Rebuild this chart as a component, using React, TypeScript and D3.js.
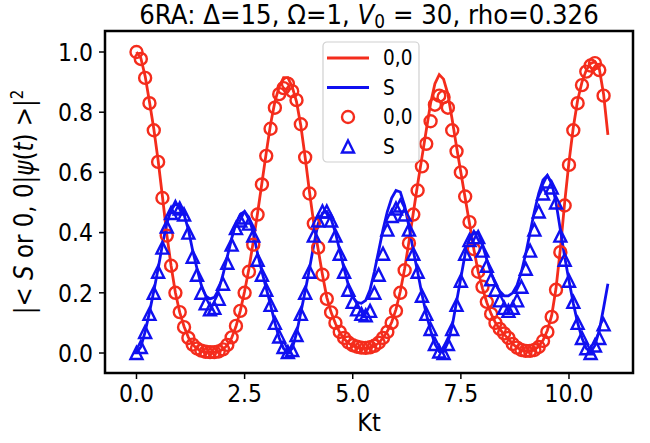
import * as d3 from "d3";

const W = 650;
const H = 443;

// sampling step of every series (Kt)
const dt = 0.1;

const xTicks = [0, 2.5, 5, 7.5, 10];
const yTicks = [0, 0.2, 0.4, 0.6, 0.8, 1.0];

// solid lines, Kt = 0 .. 10.9
const red00Line = [
  1.0, 0.98, 0.92, 0.835, 0.745, 0.64, 0.52, 0.395, 0.29, 0.2,
  0.135, 0.088, 0.052, 0.028, 0.014, 0.007, 0.003, 0.002, 0.002, 0.005,
  0.012, 0.026, 0.05, 0.088, 0.14, 0.205, 0.28, 0.37, 0.465, 0.565,
  0.665, 0.76, 0.835, 0.885, 0.915, 0.915, 0.885, 0.835, 0.755, 0.65,
  0.535, 0.43, 0.345, 0.26, 0.185, 0.135, 0.098, 0.068, 0.047, 0.033,
  0.024, 0.019, 0.016, 0.016, 0.018, 0.023, 0.033, 0.05, 0.072, 0.102,
  0.145, 0.205, 0.28, 0.37, 0.465, 0.56, 0.65, 0.74, 0.83, 0.895,
  0.925, 0.91, 0.86, 0.775, 0.685, 0.6, 0.515, 0.43, 0.345, 0.27,
  0.215, 0.168, 0.13, 0.1, 0.079, 0.062, 0.047, 0.03, 0.018, 0.01,
  0.007, 0.007, 0.011, 0.022, 0.042, 0.075, 0.125, 0.215, 0.345, 0.5,
  0.635, 0.75, 0.84, 0.9, 0.94, 0.962, 0.968, 0.945, 0.86, 0.725,
];

const blueSLine = [
  0.0, 0.02, 0.07, 0.135, 0.205, 0.28, 0.36, 0.43, 0.475, 0.495,
  0.49, 0.46, 0.41, 0.34, 0.28, 0.225, 0.19, 0.18, 0.185, 0.21,
  0.26, 0.32, 0.38, 0.43, 0.46, 0.47, 0.45, 0.4, 0.33, 0.27,
  0.215, 0.16, 0.1, 0.05, 0.015, 0.0, 0.015, 0.065, 0.135, 0.205,
  0.28, 0.36, 0.43, 0.465, 0.47, 0.445, 0.4, 0.34, 0.28, 0.225,
  0.185, 0.168, 0.165, 0.175, 0.21, 0.27, 0.34, 0.41, 0.47, 0.515,
  0.54, 0.535, 0.49, 0.42, 0.34, 0.27, 0.195, 0.13, 0.075, 0.03,
  0.005, 0.005, 0.035, 0.09, 0.17, 0.25, 0.33, 0.38, 0.4, 0.4,
  0.36, 0.31, 0.265, 0.23, 0.205, 0.19, 0.19, 0.2, 0.225, 0.27,
  0.33, 0.4, 0.47, 0.53, 0.575, 0.59, 0.565, 0.5, 0.41, 0.32,
  0.24, 0.165, 0.1, 0.05, 0.015, 0.003, 0.025, 0.075, 0.15, 0.23,
];

// markers, Kt = 0 .. 10.8
const red00Pts = [
  1.0, 0.977, 0.914, 0.83, 0.74, 0.635, 0.515, 0.39, 0.29, 0.2,
  0.136, 0.086, 0.05, 0.028, 0.015, 0.008, 0.004, 0.003, 0.003, 0.005,
  0.012, 0.027, 0.052, 0.09, 0.14, 0.2, 0.27, 0.36, 0.46, 0.56,
  0.655, 0.745, 0.815, 0.86, 0.88, 0.895, 0.87, 0.84, 0.76, 0.65,
  0.53, 0.43, 0.35, 0.26, 0.18, 0.135, 0.1, 0.07, 0.05, 0.035,
  0.026, 0.021, 0.018, 0.017, 0.019, 0.024, 0.034, 0.05, 0.07, 0.1,
  0.14, 0.2, 0.275, 0.365, 0.46, 0.54, 0.62, 0.695, 0.77, 0.825,
  0.855, 0.85, 0.815, 0.74, 0.67, 0.6, 0.52, 0.435, 0.345, 0.27,
  0.22, 0.17, 0.13, 0.1, 0.08, 0.065, 0.05, 0.03, 0.018, 0.01,
  0.007, 0.007, 0.01, 0.02, 0.04, 0.07, 0.12, 0.21, 0.335, 0.49,
  0.625, 0.74, 0.83, 0.89, 0.935, 0.955, 0.963, 0.94, 0.855,
];

const blueSPts = [
  0.0, 0.02, 0.07, 0.13, 0.2, 0.27, 0.35, 0.42, 0.465, 0.485,
  0.48, 0.46, 0.4, 0.32, 0.26, 0.2, 0.165, 0.145, 0.15, 0.18,
  0.23, 0.3, 0.36, 0.415, 0.44, 0.45, 0.43, 0.39, 0.31, 0.26,
  0.21, 0.16, 0.1, 0.055, 0.02, 0.003, 0.01, 0.06, 0.13, 0.2,
  0.27, 0.39, 0.44, 0.47, 0.47, 0.44, 0.39, 0.33, 0.27, 0.21,
  0.17, 0.145, 0.13, 0.125, 0.14, 0.2, 0.26, 0.33, 0.41, 0.455,
  0.48, 0.49, 0.46, 0.41, 0.33, 0.27, 0.19, 0.13, 0.08, 0.03,
  0.005, 0.0, 0.03, 0.08, 0.16, 0.24, 0.33, 0.375, 0.385, 0.385,
  0.34, 0.29, 0.245, 0.21, 0.175, 0.15, 0.14, 0.15, 0.175, 0.22,
  0.28, 0.34, 0.41, 0.47, 0.53, 0.57, 0.55, 0.5, 0.39, 0.31,
  0.24, 0.17, 0.1, 0.05, 0.016, 0.0, 0.025, 0.05, 0.095,
];

const RED = "#f42c1c";
const BLUE = "#1010f0";
const FONT = "DejaVu Sans";

const frame = { left: 105, right: 633, top: 31, bottom: 373 };
const SY = 1.12; // text in the picture is a little taller than wide

export default function App() {
  const x = d3.scaleLinear().domain([-0.728, 11.48]).range([frame.left, frame.right]);
  const y = d3.scaleLinear().domain([-0.0664, 1.0698]).range([frame.bottom, frame.top]);

  const line = d3
    .line<number>()
    .x((_, i) => x(i * dt))
    .y((v) => y(v));

  const tri = (r: number) => `M0,${-r}L${r},${r}L${-r},${r}Z`;

  const legendRows = [
    { kind: "line", color: RED, label: "0,0" },
    { kind: "line", color: BLUE, label: "S" },
    { kind: "circle", color: RED, label: "0,0" },
    { kind: "tri", color: BLUE, label: "S" },
  ];

  const cx = (frame.left + frame.right) / 2;

  return (
    <div style={{ position: "fixed", left: 0, top: 0 }}>
      <svg width={W} height={H} style={{ display: "block", background: "#fff" }} fontFamily={FONT}>
        <defs>
          <clipPath id="plot">
            <rect x={frame.left} y={frame.top} width={frame.right - frame.left} height={frame.bottom - frame.top} />
          </clipPath>
        </defs>

        <text transform={`translate(${cx},24) scale(1,${SY})`} fontSize={24.5} textAnchor="middle">
          6RA: Δ=15, Ω=1, <tspan fontStyle="italic">V</tspan>
          <tspan fontSize={17} dy={4}>0</tspan>
          <tspan dy={-4}> = 30, rho=0.326</tspan>
        </text>

        <g clipPath="url(#plot)">
          <path d={line(red00Line) ?? ""} fill="none" stroke={RED} strokeWidth={2.8} />
          <path d={line(blueSLine) ?? ""} fill="none" stroke={BLUE} strokeWidth={2.8} />
          {red00Pts.map((v, i) => (
            <circle key={"c" + i} cx={x(i * dt)} cy={y(v)} r={6} fill="none" stroke={RED} strokeWidth={2.4} />
          ))}
          {blueSPts.map((v, i) => (
            <path
              key={"t" + i}
              d={tri(6)}
              transform={`translate(${x(i * dt)},${y(v)})`}
              fill="none"
              stroke={BLUE}
              strokeWidth={2.4}
            />
          ))}
        </g>

        <rect
          x={frame.left}
          y={frame.top}
          width={frame.right - frame.left}
          height={frame.bottom - frame.top}
          fill="none"
          stroke="#000"
          strokeWidth={2.5}
        />

        {xTicks.map((t) => (
          <g key={"x" + t} transform={`translate(${x(t)},${frame.bottom})`}>
            <line y1={0} y2={6} stroke="#000" strokeWidth={1.5} />
            <text transform={`translate(0,29) scale(1,${SY})`} fontSize={22} textAnchor="middle">
              {t.toFixed(1)}
            </text>
          </g>
        ))}
        {yTicks.map((t) => (
          <g key={"y" + t} transform={`translate(${frame.left},${y(t)})`}>
            <line x1={0} x2={-6} stroke="#000" strokeWidth={1.5} />
            <text transform={`translate(-12,0) scale(1,${SY})`} dy="0.36em" fontSize={22} textAnchor="end">
              {t.toFixed(1)}
            </text>
          </g>
        ))}

        <text transform={`translate(${cx},431) scale(1,${SY})`} fontSize={22.5} textAnchor="middle">
          Kt
        </text>
        <text
          transform={`translate(33,${(frame.top + frame.bottom) / 2}) rotate(-90) scale(1,${SY})`}
          fontSize={23}
          textAnchor="middle"
        >
          |&lt; <tspan fontStyle="italic">S</tspan> or 0, 0|<tspan fontStyle="italic">ψ</tspan>(
          <tspan fontStyle="italic">t</tspan>) &gt;|<tspan fontSize={15} dy={-9}>2</tspan>
        </text>

        <g transform="translate(323,42)">
          <rect width={96} height={120} rx={4} fill="#fff" fillOpacity={0.8} stroke="#d0d0d0" strokeWidth={1.2} />
          {legendRows.map((r, i) => {
            const cy = 16 + i * 29.5;
            return (
              <g key={"l" + i} transform={`translate(0,${cy})`}>
                {r.kind === "line" && <line x1={4} x2={46} stroke={r.color} strokeWidth={2.8} />}
                {r.kind === "circle" && <circle cx={25} r={6} fill="none" stroke={r.color} strokeWidth={2.4} />}
                {r.kind === "tri" && (
                  <path d={tri(6)} transform="translate(25,0)" fill="none" stroke={r.color} strokeWidth={2.4} />
                )}
                <text transform={`translate(60,0) scale(1,${SY})`} dy="0.36em" fontSize={18.5}>
                  {r.label}
                </text>
              </g>
            );
          })}
        </g>
      </svg>
    </div>
  );
}
